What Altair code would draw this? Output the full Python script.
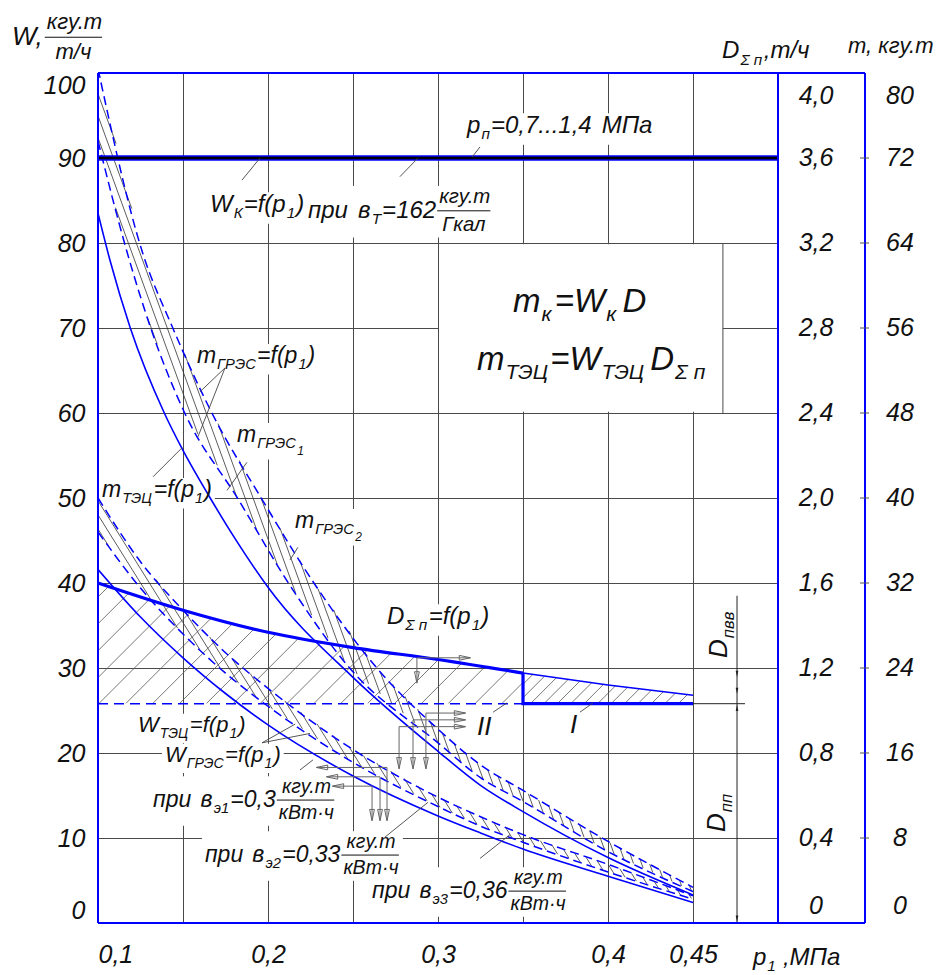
import numpy as np
import pandas as pd
import altair as alt

# ---------------- curves: p1 (MPa) against the common left scale ----------------
WK_P = [0.1, 0.5]
WK_W = [90.0, 90.0]

M_TEC_P = [0.1, 0.107, 0.119, 0.139, 0.15, 0.166, 0.181, 0.2, 0.25, 0.3, 0.325, 0.35, 0.4, 0.45]
M_TEC_W = [83.5, 78.0, 70.0, 60.0, 55.6, 50.0, 45.1, 39.5, 28.9, 20.2, 16.2, 13.1, 7.7, 3.3]

M_GRES1_P = [0.1, 0.126, 0.144, 0.167, 0.196, 0.227, 0.264, 0.3, 0.325, 0.35, 0.4, 0.45]
M_GRES1_W = [100.5, 79.0, 70.0, 60.0, 50.0, 40.0, 30.0, 22.8, 18.6, 15.6, 9.6, 4.2]

M_GRES2_P = [0.1, 0.117, 0.131, 0.151, 0.182, 0.212, 0.248, 0.3, 0.325, 0.35, 0.4, 0.45]
M_GRES2_W = [92.0, 79.0, 70.0, 60.0, 50.0, 40.0, 30.0, 21.2, 17.1, 14.3, 8.4, 3.7]

W_P = [0.1, 0.125, 0.15, 0.175, 0.2, 0.25, 0.3, 0.325, 0.35, 0.4, 0.45]
W_GRES1_W = [50.0, 42.5, 36.8, 31.8, 27.6, 20.4, 14.8, 12.5, 10.4, 6.9, 3.2]
W_GRES2_W = [46.0, 39.4, 34.0, 29.4, 25.5, 18.9, 13.7, 11.4, 9.5, 6.0, 2.8]
W_TEC_W = [41.6, 36.0, 31.2, 27.0, 23.3, 17.3, 12.6, 10.6, 8.7, 5.5, 2.4]

# D_sum_p on the left scale (25 units = 1 t/h)
D_P = [0.1, 0.15, 0.2, 0.25, 0.3, 0.35]
D_W = [40.0, 36.8, 34.2, 32.4, 31.0, 29.4]
D_TAIL_P = [0.35, 0.4, 0.45]
D_TAIL_W = [29.4, 28.0, 26.8]
D_PP_W = 25.8
P_SWITCH = 0.35

# grids and scale labels
X_GRID = [0.1, 0.15, 0.2, 0.25, 0.3, 0.35, 0.4, 0.45, 0.5]
Y_GRID = [0, 10, 20, 30, 40, 50, 60, 70, 80, 90, 100]
D_LABELS = ["0", "0,4", "0,8", "1,2", "1,6", "2,0", "2,4", "2,8", "3,2", "3,6", "4,0"]
M_LABELS = ["0", "8", "16", "24", "32", "40", "48", "56", "64", "72", "80"]

# reading arrows (p, level) on the curves
ARR_D = (0.2876, 31.2, 28.3, 0.3188)
ARR_UP_P = [0.2929, 0.2853, 0.2771]
ARR_UP_W = [24.7, 23.9, 23.1]
ARR_UP_RIGHT, ARR_UP_DOWN = 0.3159, 18.2
ARR_LO_P = [0.2700, 0.2659, 0.2612]
ARR_LO_W = [18.3, 17.2, 16.1]
ARR_LO_LEFT = [0.2288, 0.2347, 0.2382]
ARR_LO_DOWN = 12.1

# ---------------- geometry / style ----------------
P_MIN, P_MAX = 0.1, 0.5
SX, SY = 1700.0, 8.5          # pixels per MPa and per unit of the left scale
BOX_P = P_MAX + 87 / SX       # outer edge of the right scale box
BLUE = "#0000ff"
GRID = "#4a4a4a"
INK = "#111111"
FONT = "Liberation Sans"

XS = alt.Scale(domain=[P_MIN, P_MAX], nice=False, zero=False)
YS = alt.Scale(domain=[0, 100], nice=False)
common_axis = dict(grid=True, gridColor=GRID, gridWidth=1, gridOpacity=1, domain=False,
                   ticks=False, labelFont=FONT, labelFontStyle="italic", labelFontSize=25,
                   labelColor=INK, labelFlush=True, labelOverlap=False, title=None)
X_LABEL_EXPR = ("round(datum.value*100)==10 ? '0,1' : round(datum.value*100)==20 ? '0,2' : "
                "round(datum.value*100)==30 ? '0,3' : round(datum.value*100)==40 ? '0,4' : "
                "round(datum.value*100)==45 ? '0,45' : ''")
XA = alt.Axis(values=X_GRID, labelExpr=X_LABEL_EXPR, labelPadding=19, **common_axis)
YA = alt.Axis(values=Y_GRID, labelPadding=13, **common_axis)


def xy():
    return dict(x=alt.X("p:Q", scale=XS, axis=XA), y=alt.Y("W:Q", scale=YS, axis=YA))


def seg_enc():
    return dict(**xy(), x2=alt.X2("p2:Q"), y2=alt.Y2("W2:Q"))


def curve(name, P, W):
    return pd.DataFrame({"p": P, "W": W, "name": name})


def segs_df(rows):
    return pd.DataFrame(rows, columns=["p", "W", "p2", "W2"])


def hatch(lo_p, lo_w, hi_p, hi_w, p_from, p_to, angle, step):
    """Parallel hatch lines clipped to the band lo(p) <= W <= hi(p)."""
    a = np.radians(angle)
    d = np.array([np.cos(a), np.sin(a)])
    n = np.array([-np.sin(a), np.cos(a)])
    X0, X1 = (p_from - P_MIN) * SX, (p_to - P_MIN) * SX
    cs = [n[0] * X + n[1] * Y for X in (X0, X1) for Y in (0.0, 100 * SY)]
    t = np.arange(-1500.0, 1500.0, 0.5)
    out = []
    for c in np.arange(min(cs) + step / 2, max(cs), step):
        X = c * n[0] + t * d[0]
        Y = c * n[1] + t * d[1]
        p = P_MIN + X / SX
        w = 100 - Y / SY
        ok = (p >= p_from) & (p <= p_to) & (w >= 0) & (w <= 100)
        ok &= (w >= np.interp(p, lo_p, lo_w)) & (w <= np.interp(p, hi_p, hi_w))
        edges = np.flatnonzero(np.diff(np.r_[0, ok.astype(int), 0]))
        for s, e in zip(edges[::2], edges[1::2]):
            if e - s > 1:
                out.append((p[s], w[s], p[e - 1], w[e - 1]))
    return out


# ---------------- text layout with subscripts and fractions ----------------
# advance widths (1/1000 em) of the italic face; italic т and п take the m / n forms
ADV = {" ": 278, "(": 333, ")": 333, ",": 278, ".": 278, "/": 278, "=": 584, "·": 278,
       "D": 722, "I": 278, "W": 944, "f": 278, "p": 556, "Σ": 620,
       "Г": 542, "К": 583, "М": 833, "П": 719, "Р": 667, "С": 722, "Т": 611, "Ц": 740,
       "Э": 719, "В": 667,
       "а": 556, "в": 531, "г": 365, "и": 556, "к": 438, "л": 573, "п": 556, "р": 556,
       "т": 833, "у": 500, "ч": 521, "э": 510}


def tw(s, fs):
    return sum(ADV.get(ch, 556) for ch in s) * fs / 1000.0


def compose(items, S):
    """Return pieces (text, dx, dy, size), fraction bars and the extent of one label."""
    pieces, bars = [], []
    x = 0.0
    for it in items:
        kind = it[0]
        if kind == "n":
            pieces.append((it[1], x, 0.0, S))
            x += tw(it[1], S)
        elif kind == "g":
            x += it[1]
        elif kind == "s":
            fs = 0.64 * S
            pieces.append((it[1], x + 1, 0.27 * S, fs))
            x += tw(it[1], fs) + 2
        elif kind == "ss":
            fs = 0.52 * S
            pieces.append((it[1], x, 0.56 * S, fs))
            x += tw(it[1], fs) + 1
        elif kind == "f":
            fs = 0.85 * S
            wn, wd = tw(it[1], fs), tw(it[2], fs)
            wm = max(wn, wd)
            pieces.append((it[1], x + 3 + (wm - wn) / 2, -0.62 * S, fs))
            pieces.append((it[2], x + 3 + (wm - wd) / 2, 0.54 * S, fs))
            bars.append((x + 1, x + wm + 5, -0.3 * S))
            x += wm + 6
    top = min(dy - 0.74 * fs for _, _, dy, fs in pieces) - 2
    bottom = max(dy + 0.22 * fs for _, _, dy, fs in pieces) + 2
    return pieces, bars, (x, top, bottom)


LABELS = [
    ((0.3171, 92.94), 24, [("n", "p"), ("s", "п"), ("n", "=0,7...1,4"), ("g", 10), ("n", "МПа")]),
    ((0.1659, 83.65), 24, [("n", "W"), ("s", "К"), ("n", "=f(p"), ("s", "1"), ("n", ")")]),
    ((0.2235, 82.94), 24, [("n", "при"), ("g", 10), ("n", "в"), ("s", "Т"), ("n", "=162"),
                           ("f", "кгу.т", "Гкал")]),
    ((0.3441, 71.88), 33, [("n", "т"), ("s", "к"), ("g", 3), ("n", "=W"), ("s", "к"), ("g", 6), ("n", "D")]),
    ((0.3229, 65.06), 33, [("n", "т"), ("s", "ТЭЦ"), ("n", "=W"), ("s", "ТЭЦ"), ("g", 4), ("n", "D"),
                           ("s", "Σ п")]),
    ((0.1582, 65.88), 23, [("n", "т"), ("s", "ГРЭС"), ("n", "=f(p"), ("s", "1"), ("n", ")")]),
    ((0.1818, 56.59), 23, [("n", "т"), ("s", "ГРЭС"), ("ss", "1")]),
    ((0.1024, 50.12), 23, [("n", "т"), ("s", "ТЭЦ"), ("n", "=f(p"), ("s", "1"), ("n", ")")]),
    ((0.2159, 46.47), 23, [("n", "т"), ("s", "ГРЭС"), ("ss", "2")]),
    ((0.2700, 35.18), 24, [("n", "D"), ("s", "Σ п"), ("n", "=f(p"), ("s", "1"), ("n", ")")]),
    ((0.1235, 22.47), 22, [("n", "W"), ("s", "ТЭЦ"), ("n", "=f(p"), ("s", "1"), ("n", ")")]),
    ((0.1394, 18.94), 22, [("n", "W"), ("s", "ГРЭС"), ("n", "=f(p"), ("s", "1"), ("n", ")")]),
    ((0.1324, 13.65), 23, [("n", "при"), ("g", 9), ("n", "в"), ("s", "э1"), ("n", "=0,3"),
                           ("f", "кгу.т", "кВт·ч")]),
    ((0.1629, 7.18), 23, [("n", "при"), ("g", 9), ("n", "в"), ("s", "э2"), ("n", "=0,33"),
                          ("f", "кгу.т", "кВт·ч")]),
    ((0.2612, 2.94), 23, [("n", "при"), ("g", 9), ("n", "в"), ("s", "э3"), ("n", "=0,36"),
                          ("f", "кгу.т", "кВт·ч")]),
    ((0.3229, 22.12), 26, [("n", "II")]),
    ((0.3776, 22.35), 26, [("n", "I")]),
    # scale titles
    ((0.0494, 103.29), 26, [("n", "W,"), ("f", "кгу.т", "т/ч")]),
    ((0.4671, 101.76), 24, [("n", "D"), ("s", "Σ п"), ("n", ",т/ч")]),
    ((0.5412, 102.35), 22, [("n", "т, кгу.т")]),
    ((0.4853, -4.94), 24, [("n", "p"), ("s", "1"), ("g", 6), ("n", ",МПа")]),
]
ROTATED = [
    ((0.4700, 31.18), 26, [("n", "D"), ("s", "пвв")]),
    ((0.4688, 10.71), 26, [("n", "D"), ("s", "пп")]),
]

txt_rows, bar_rows, rot_rows, mask_rows = [], [], [], []
for (p0, w0), S, items in LABELS:
    pieces, bars, (width, top, bottom) = compose(items, S)
    for t, dx, dy, fs in pieces:
        txt_rows.append(dict(p=p0 + dx / SX, W=w0 - dy / SY, t=t, fs=fs))
    for x1, x2, dy in bars:
        bar_rows.append((p0 + x1 / SX, w0 - dy / SY, p0 + x2 / SX, w0 - dy / SY))
    mask_rows.append((p0 - 3 / SX, w0 - bottom / SY, p0 + (width + 3) / SX, w0 - top / SY))
for (p0, w0), S, items in ROTATED:
    pieces, bars, (width, top, bottom) = compose(items, S)
    for t, dx, dy, fs in pieces:
        rot_rows.append(dict(p=p0 + dy / SX, W=w0 + dx / SY, t=t, fs=fs))
    mask_rows.append((p0 + top / SX, w0 - 3 / SY, p0 + bottom / SX, w0 + (width + 3) / SY))

layers = []

# blank panel behind the formulas and white ground under the labels
mask_rows.append((0.3006, 60.15, 0.4676, 79.85))
layers.append(alt.Chart(segs_df(mask_rows)).mark_rect(color="white").encode(**seg_enc()))
layers.append(alt.Chart(segs_df([(0.4676, 60, 0.4676, 80)])).mark_rule(
    color=GRID, strokeWidth=1).encode(**seg_enc()))

# hatched steam regions II and I
D_ALL_P = D_P + D_TAIL_P[1:]
D_ALL_W = D_W + D_TAIL_W[1:]
base_p, base_w = [P_MIN, 0.45], [D_PP_W, D_PP_W]
reg = hatch(base_p, base_w, D_ALL_P, D_ALL_W, P_MIN, P_SWITCH, -45, 19.0)
reg += hatch(base_p, base_w, D_ALL_P, D_ALL_W, P_SWITCH, 0.45, -45, 9.5)
layers.append(alt.Chart(segs_df(reg)).mark_rule(color="#555555", strokeWidth=0.8).encode(**seg_enc()))

# hatching inside the GRES bands
bands = hatch(M_GRES2_P, M_GRES2_W, M_GRES1_P, M_GRES1_W, P_MIN, 0.45, 70, 7.5)
bands += hatch(W_P, W_GRES2_W, W_P, W_GRES1_W, P_MIN, 0.45, 58, 7.5)
layers.append(alt.Chart(segs_df(bands)).mark_rule(color="#333333", strokeWidth=0.8).encode(**seg_enc()))

# curves
solid = pd.concat([curve("m_tec", M_TEC_P, M_TEC_W), curve("w_tec", W_P, W_TEC_W)])
dashed = pd.concat([curve("m_g1", M_GRES1_P, M_GRES1_W), curve("m_g2", M_GRES2_P, M_GRES2_W),
                    curve("w_g1", W_P, W_GRES1_W), curve("w_g2", W_P, W_GRES2_W)])
layers.append(alt.Chart(dashed).mark_line(color=BLUE, strokeWidth=1.5, strokeDash=[9, 5],
                                          interpolate="monotone", clip=True)
              .encode(**xy(), detail="name:N"))
layers.append(alt.Chart(solid).mark_line(color=BLUE, strokeWidth=1.6, interpolate="monotone", clip=True)
              .encode(**xy(), detail="name:N"))

# steam flow D_sum_p
layers.append(alt.Chart(curve("d", D_P, D_W)).mark_line(color=BLUE, strokeWidth=3.2, interpolate="monotone")
              .encode(**xy()))
layers.append(alt.Chart(curve("dt", D_TAIL_P, D_TAIL_W)).mark_line(color=BLUE, strokeWidth=1.5)
              .encode(**xy()))
layers.append(alt.Chart(curve("dpp", [P_MIN, P_SWITCH], [D_PP_W, D_PP_W])).mark_line(
    color=BLUE, strokeWidth=1.5, strokeDash=[10, 6]).encode(**xy()))
step_df = pd.DataFrame({"p": [P_SWITCH, P_SWITCH, 0.45], "W": [D_W[-1], D_PP_W, D_PP_W], "i": [0, 1, 2]})
layers.append(alt.Chart(step_df).mark_line(color=BLUE, strokeWidth=3.2)
              .encode(**xy(), order="i:Q"))

# W_K line
wk = curve("wk", WK_P, WK_W)
layers.append(alt.Chart(wk).mark_line(color=BLUE, strokeWidth=5.5).encode(**xy()))
layers.append(alt.Chart(wk).mark_line(color="black", strokeWidth=2.6).encode(**xy()))

# reading arrows
HX, HY = 5 / SX, 5 / SY
SH_R = "M1,0L-1,-0.42L-1,0.42Z"
SH_L = "M-1,0L1,-0.42L1,0.42Z"
SH_D = "M0,1L-0.42,-1L0.42,-1Z"
SH_U = "M0,-1L-0.42,1L0.42,1Z"
arr_lines, arr_heads = [], []
pa, wa, wdown, pright = ARR_D
arr_lines += [(pa, wa, pa, wdown), (pa, wa, pright, wa)]
arr_heads += [dict(p=pa, W=wdown + HY, s=SH_D), dict(p=pright - HX, W=wa, s=SH_R)]
for p_, w_ in zip(ARR_UP_P, ARR_UP_W):
    arr_lines += [(p_, w_, ARR_UP_RIGHT, w_), (p_, w_, p_, ARR_UP_DOWN)]
    arr_heads += [dict(p=ARR_UP_RIGHT - HX, W=w_, s=SH_R), dict(p=p_, W=ARR_UP_DOWN + HY, s=SH_D)]
for p_, w_, pl in zip(ARR_LO_P, ARR_LO_W, ARR_LO_LEFT):
    arr_lines += [(p_, w_, pl, w_), (p_, w_, p_, ARR_LO_DOWN)]
    arr_heads += [dict(p=pl + HX, W=w_, s=SH_L), dict(p=p_, W=ARR_LO_DOWN + HY, s=SH_D)]
layers.append(alt.Chart(segs_df(arr_lines)).mark_rule(color="#666666", strokeWidth=1).encode(**seg_enc()))
layers.append(alt.Chart(pd.DataFrame(arr_heads)).mark_point(filled=False, color="#666666", size=130,
                                                            strokeWidth=1, opacity=1)
              .encode(**xy(), shape=alt.Shape("s:N", scale=None)))

# leader lines of the labels
leaders = [
    (0.1847, 87.4, 0.1953, 90.0), (0.2776, 87.8, 0.2882, 90.0), (0.3200, 90.1, 0.3247, 91.3),
    (0.1747, 65.3, 0.1600, 62.5), (0.1747, 65.3, 0.1588, 57.2), (0.1876, 54.2, 0.1759, 50.9),
    (0.1324, 52.5, 0.1494, 55.9), (0.2176, 44.2, 0.2129, 42.7), (0.3324, 24.8, 0.3406, 25.9),
    (0.3835, 24.8, 0.3912, 25.9), (0.1965, 21.2, 0.2247, 22.3), (0.1965, 21.2, 0.2160, 23.4),
    (0.2188, 18.0, 0.2265, 19.2), (0.2688, 10.1, 0.2941, 14.2), (0.3247, 7.6, 0.3424, 10.4),
]
layers.append(alt.Chart(segs_df(leaders)).mark_rule(color="#444444", strokeWidth=0.9).encode(**seg_enc()))

# dimension line for D_pvv / D_pp
P_DIM = 0.4759
dim = [(P_DIM, 0, P_DIM, 38.5), (0.45, D_PP_W, 0.4806, D_PP_W), (0.45, 0.05, 0.4806, 0.05)]
layers.append(alt.Chart(segs_df(dim)).mark_rule(color="#222222", strokeWidth=1).encode(**seg_enc()))
dim_heads = pd.DataFrame([dict(p=P_DIM, W=28.8 + 0.5, s=SH_D), dict(p=P_DIM, W=D_TAIL_W[-1] + 0.5, s=SH_D),
                          dict(p=P_DIM, W=D_PP_W - 0.5, s=SH_U), dict(p=P_DIM, W=0.5, s=SH_D)])
layers.append(alt.Chart(dim_heads).mark_point(filled=True, color="#222222", size=40, opacity=1)
              .encode(**xy(), shape=alt.Shape("s:N", scale=None)))

# frame and the right scale box
frame = [(P_MIN, 0, P_MIN, 100), (P_MIN, 100, BOX_P, 100), (P_MIN, 0, BOX_P, 0),
         (P_MAX, 0, P_MAX, 100), (BOX_P, 0, BOX_P, 100)]
layers.append(alt.Chart(segs_df(frame)).mark_rule(color=BLUE, strokeWidth=2).encode(**seg_enc()))
ticks = [(BOX_P - 5 / SX, v, BOX_P + 4 / SX, v) for v in Y_GRID[1:-1]]
layers.append(alt.Chart(segs_df(ticks)).mark_rule(color="#555555", strokeWidth=1).encode(**seg_enc()))

right_rows = []
for v, dl, ml in zip(Y_GRID, D_LABELS, M_LABELS):
    yv = v - 2.7 if v == 100 else (v + 2.0 if v == 0 else v)
    right_rows.append(dict(p=P_MAX + 38 / SX, W=yv, t=dl))
    right_rows.append(dict(p=P_MAX + 122 / SX, W=yv, t=ml))
layers.append(alt.Chart(pd.DataFrame(right_rows)).mark_text(
    font=FONT, fontStyle="italic", fontSize=25, color=INK, align="center", baseline="middle")
    .encode(**xy(), text="t:N"))

# labels
tkw = dict(font=FONT, fontStyle="italic", align="left", baseline="alphabetic", color=INK)
size_enc = alt.Size("fs:Q", scale=None, legend=None)
layers.append(alt.Chart(pd.DataFrame(txt_rows)).mark_text(**tkw)
              .encode(**xy(), text="t:N", size=size_enc))
layers.append(alt.Chart(pd.DataFrame(rot_rows)).mark_text(angle=270, **tkw)
              .encode(**xy(), text="t:N", size=size_enc))
layers.append(alt.Chart(segs_df(bar_rows)).mark_rule(color=INK, strokeWidth=1).encode(**seg_enc()))

chart = alt.layer(*layers).properties(
    width=680, height=850,
    autosize=alt.AutoSizeParams(type="none"),
    padding={"left": 98, "top": 73, "right": 160, "bottom": 52},
    background="white",
).configure_view(stroke=None)

chart.save("out.html", embed_options={"renderer": "svg", "actions": False})
